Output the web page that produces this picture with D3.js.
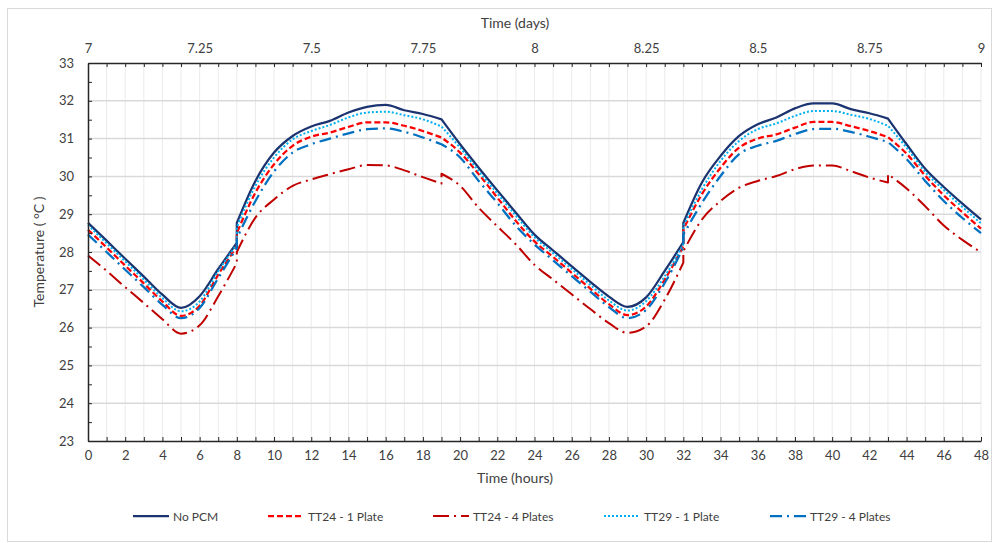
<!DOCTYPE html>
<html>
<head>
<meta charset="utf-8">
<script src="https://cdn.jsdelivr.net/npm/d3@7"></script>
<style>
  body { margin: 0; background: #fff; }
  svg { display: block; }
  text { font-family: Lato, "Liberation Sans", sans-serif; fill: #404040; }
</style>
</head>
<body>
<svg id="chart" width="993" height="543"></svg>
<script>
// Hour stamps; repeated hours carry the step changes of the simulation output
const hours = [0,1,2,3,4,5,6,7,8,8,9,10,11,12,13,14,15,16,17,18,19,19,
  20,21,22,23,24,25,26,27,28,29,30,31,32,32,33,34,35,36,37,38,39,40,41,42,43,43,
  44,45,46,47,48];

const noPCM = [28.77,28.30,27.82,27.35,26.87,26.52,26.83,27.55,28.24,28.77,
  29.88,30.63,31.07,31.32,31.47,31.69,31.84,31.89,31.75,31.65,31.51,31.51,
  30.85,30.23,29.63,29.04,28.46,28.04,27.62,27.21,26.82,26.55,26.80,27.50,28.26,28.77,
  29.84,30.54,31.07,31.38,31.56,31.80,31.93,31.93,31.78,31.67,31.53,31.53,
  30.85,30.20,29.72,29.28,28.86];

const tt24One = [28.59,28.12,27.64,27.17,26.69,26.31,26.58,27.40,28.15,28.50,
  29.57,30.32,30.81,31.05,31.16,31.31,31.43,31.43,31.34,31.20,31.03,31.03,
  30.63,30.06,29.44,28.82,28.28,27.87,27.45,27.03,26.62,26.33,26.56,27.27,28.15,28.60,
  29.53,30.23,30.76,31.00,31.11,31.29,31.44,31.44,31.33,31.20,31.04,31.04,
  30.60,30.02,29.50,29.05,28.62];

const tt24Four = [27.91,27.50,27.07,26.65,26.22,25.84,26.06,26.83,27.71,28.00,
  28.91,29.39,29.75,29.92,30.06,30.19,30.30,30.29,30.16,29.98,29.81,30.07,
  29.75,29.17,28.68,28.20,27.66,27.27,26.88,26.49,26.12,25.86,26.03,26.74,27.72,28.02,
  28.86,29.35,29.70,29.88,30.01,30.19,30.29,30.29,30.14,29.97,29.84,30.06,
  29.68,29.21,28.70,28.32,27.99];

const tt29One = [28.71,28.23,27.75,27.27,26.78,26.43,26.69,27.49,28.20,28.66,
  29.75,30.50,30.98,31.20,31.36,31.56,31.69,31.71,31.62,31.51,31.32,31.32,
  30.76,30.14,29.55,28.96,28.39,27.97,27.55,27.13,26.72,26.45,26.70,27.36,28.20,28.68,
  29.66,30.41,30.94,31.25,31.40,31.60,31.73,31.73,31.63,31.52,31.34,31.34,
  30.76,30.12,29.64,29.19,28.76];

const tt29Four = [28.46,28.00,27.53,27.07,26.60,26.25,26.52,27.31,28.11,28.36,
  29.35,30.13,30.63,30.85,31.00,31.14,31.25,31.27,31.18,31.03,30.85,30.85,
  30.50,29.88,29.30,28.69,28.20,27.78,27.36,26.95,26.54,26.25,26.47,27.18,28.11,28.46,
  29.30,30.01,30.59,30.81,30.94,31.12,31.25,31.26,31.18,31.05,30.91,30.91,
  30.46,29.88,29.35,28.90,28.50];

const seriesNames = ["No PCM", "TT24 - 1 Plate", "TT24 - 4 Plates", "TT29 - 1 Plate", "TT29 - 4 Plates"];
const hourTicks = d3.range(0, 49, 2);
const dayTicks = [7, 7.25, 7.5, 7.75, 8, 8.25, 8.5, 8.75, 9];
const tempTicks = d3.range(23, 34, 1);

const series = [
  { name: seriesNames[0], values: noPCM,    color: "#1B3470", width: 2.25, dash: null },
  { name: seriesNames[1], values: tt24One,  color: "#FF0000", width: 2.25, dash: "6,3" },
  { name: seriesNames[2], values: tt24Four, color: "#C00000", width: 2,    dash: "16,5,2,5" },
  { name: seriesNames[3], values: tt29One,  color: "#00B0F0", width: 2,    dash: "2,2" },
  { name: seriesNames[4], values: tt29Four, color: "#0070C0", width: 2.25, dash: "12,5,2,5" }
];

const svg = d3.select("#chart");
const m = { left: 88, right: 981, top: 63, bottom: 441 };

const x = d3.scaleLinear().domain([0, 48]).range([m.left, m.right]);
const xDays = d3.scaleLinear().domain([7, 9]).range([m.left, m.right]);
const y = d3.scaleLinear().domain([23, 33]).range([m.bottom, m.top]);

// outer frame
svg.append("rect")
  .attr("x", 7.5).attr("y", 8.5).attr("width", 984).attr("height", 533)
  .attr("fill", "none").attr("stroke", "#D9D9D9").attr("stroke-width", 1);

// grid
const grid = svg.append("g");
grid.selectAll("line.v").data(d3.range(1, 49)).join("line")
  .attr("x1", d => x(d)).attr("x2", d => x(d))
  .attr("y1", m.top).attr("y2", m.bottom)
  .attr("stroke", "#EBEBEB").attr("stroke-width", 1);
grid.selectAll("line.h").data(d3.range(24, 33)).join("line")
  .attr("x1", m.left).attr("x2", m.right)
  .attr("y1", d => y(d)).attr("y2", d => y(d))
  .attr("stroke", "#D9D9D9").attr("stroke-width", 1.5);

// Each series is drawn as one path; the points are split wherever an hour repeats
// so that the steps stay sharp while the rest is smoothed.
function pathFor(values) {
  const pts = values.map((v, i) => [x(hours[i]), y(v)]);
  const segs = [[pts[0]]];
  for (let i = 1; i < pts.length; i++) {
    if (hours[i] === hours[i - 1]) segs.push([]);
    segs[segs.length - 1].push(pts[i]);
  }
  const seg = d3.line().curve(d3.curveMonotoneX);
  // join segments: each new one starts where the step lands
  let d = "";
  segs.forEach((s, k) => {
    const p = seg(s);
    d += k === 0 ? p : "L" + p.slice(1);
  });
  return d;
}

svg.append("g").selectAll("path").data(series).join("path")
  .attr("d", s => pathFor(s.values))
  .attr("fill", "none")
  .attr("stroke", s => s.color)
  .attr("stroke-width", s => s.width)
  .attr("stroke-dasharray", s => s.dash)
  .attr("stroke-linejoin", "round");

function styleAxis(g) {
  g.selectAll("path.domain").attr("stroke", "#262626").attr("stroke-width", 1.5);
  g.selectAll(".tick line").attr("stroke", "#262626").attr("stroke-width", 1);
  g.selectAll(".tick text").attr("fill", "#404040")
    .style("font-size", "13px").style("font-family", "Lato, 'Liberation Sans', sans-serif");
}

// bottom axis: minor ticks every hour, labels every 2 hours
svg.append("g").attr("transform", `translate(0,${m.bottom})`)
  .call(d3.axisBottom(x).tickValues(d3.range(0, 49)).tickSize(-4).tickSizeOuter(0).tickFormat(""))
  .call(styleAxis);
svg.append("g").attr("transform", `translate(0,${m.bottom})`)
  .call(d3.axisBottom(x).tickValues(hourTicks).tickSize(0).tickPadding(10).tickFormat(d3.format("d")))
  .call(g => g.select("path.domain").remove())
  .call(styleAxis);

// top axis in days
svg.append("g").attr("transform", `translate(0,${m.top})`)
  .call(d3.axisTop(xDays).tickValues(d3.range(0, 49).map(h => 7 + h / 24)).tickSize(-4).tickSizeOuter(0).tickFormat(""))
  .call(styleAxis);
svg.append("g").attr("transform", `translate(0,${m.top})`)
  .call(d3.axisTop(xDays).tickValues(dayTicks).tickSize(0).tickPadding(10).tickFormat(d3.format("~g")))
  .call(g => g.select("path.domain").remove())
  .call(styleAxis);

// left axis
svg.append("g").attr("transform", `translate(${m.left},0)`)
  .call(d3.axisLeft(y).tickValues(d3.range(23, 33.01, 0.5)).tickSize(-4).tickSizeOuter(0).tickFormat(""))
  .call(styleAxis);
svg.append("g").attr("transform", `translate(${m.left},0)`)
  .call(d3.axisLeft(y).tickValues(tempTicks).tickSize(0).tickPadding(14).tickFormat(d3.format("d")))
  .call(g => g.select("path.domain").remove())
  .call(styleAxis);

// axis titles
const title = (t, xx, yy, rot) => svg.append("text")
  .attr("transform", `translate(${xx},${yy})` + (rot ? ` rotate(${rot})` : ""))
  .attr("text-anchor", "middle").attr("fill", "#262626")
  .style("font-size", "14px").text(t);
title("Time (days)", 515, 28);
title("Time (hours)", 515, 483);
title("Temperature ( °C )", 44, 252, -90);

// legend
const legendX = [133, 268, 433, 604, 770];
const lg = svg.append("g").selectAll("g").data(series).join("g")
  .attr("transform", (d, i) => `translate(${legendX[i]},516)`);
lg.append("line").attr("x1", 0).attr("x2", 36).attr("y1", 0).attr("y2", 0)
  .attr("stroke", d => d.color).attr("stroke-width", d => d.width)
  .attr("stroke-dasharray", d => d.dash);
lg.append("text").attr("x", 40).attr("y", 4.5)
  .attr("fill", "#595959").style("font-size", "12px").text(d => d.name);
</script>
</body>
</html>
